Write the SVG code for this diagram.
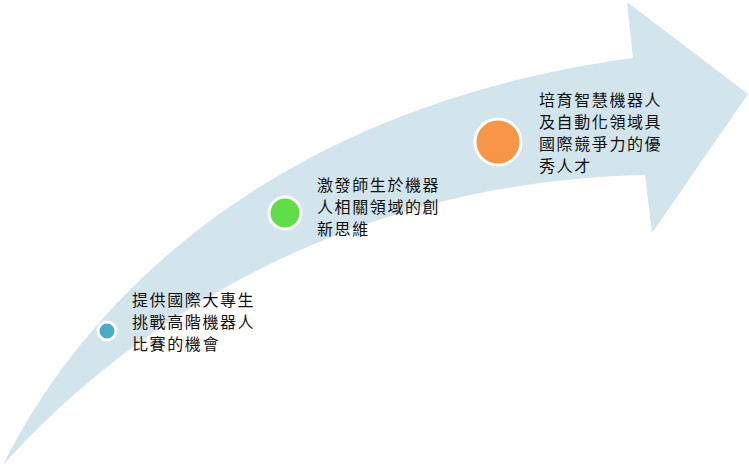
<svg xmlns="http://www.w3.org/2000/svg" width="749" height="469" viewBox="0 0 749 469">
<style>
.lbl{font-family:"Noto Sans CJK TC","Noto Sans CJK SC",sans-serif;font-size:16px;fill:#111;letter-spacing:1.6px}
.ring{stroke:#fff;stroke-width:3}
</style>
<rect width="749" height="469" fill="#fff"/>
<g id="arrow">
<path d="M3,465 C90,290 285,105 633,58 L627,2 L748,94 L652,233 L645,175 C400,180 170,280 3,465 Z" fill="#d2e4ec"/>
</g>
<g id="connectors"></g>
<g id="node1">
<circle class="ring" cx="107" cy="331" r="9" fill="#4bacc6"/>
<text class="lbl" x="132" y="306">提供國際大專生</text>
<text class="lbl" x="132" y="328">挑戰高階機器人</text>
<text class="lbl" x="132" y="350">比賽的機會</text>
</g>
<g id="node2">
<circle class="ring" cx="285" cy="213" r="16" fill="#5fdd46"/>
<text class="lbl" x="317" y="191">激發師生於機器</text>
<text class="lbl" x="317" y="213">人相關領域的創</text>
<text class="lbl" x="317" y="235">新思維</text>
</g>
<g id="node3">
<circle class="ring" cx="498" cy="142" r="23" fill="#f79646"/>
<text class="lbl" x="539" y="106">培育智慧機器人</text>
<text class="lbl" x="539" y="128">及自動化領域具</text>
<text class="lbl" x="539" y="150">國際競爭力的優</text>
<text class="lbl" x="539" y="172">秀人才</text>
</g>
</svg>
